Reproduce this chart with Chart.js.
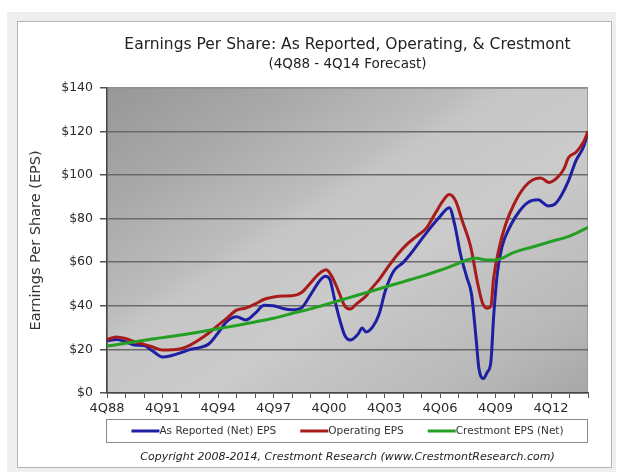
<!DOCTYPE html>
<html>
<head>
<meta charset="utf-8">
<script src="https://cdn.jsdelivr.net/npm/chart.js@4.4.1/dist/chart.umd.min.js"></script>
<style>
    html, body { margin: 0; padding: 0; background: #fff; }
    #wrap { position: relative; width: 621px; height: 472px; }
</style>
</head>
<body>
<div id="wrap"><canvas id="epsChart" width="621" height="472"></canvas></div>
<script>
(function () {
    // x values are decimal years (4Q88 = 1988.75)
    const reportedYears = [1988.75, 1989.25, 1989.75, 1990.25, 1990.75, 1991.25, 1991.75, 1992.25, 1992.75, 1993.25,
        1993.75, 1994.25, 1994.75, 1995.25, 1995.75, 1996.25, 1996.75, 1997.25, 1997.75, 1998.25,
        1998.75, 1999.25, 1999.75, 2000.25, 2000.55, 2000.8, 2001.05, 2001.35, 2001.6, 2001.9,
        2002.3, 2002.55, 2002.75, 2003.1, 2003.45, 2003.8, 2004.25, 2004.75, 2005.25, 2005.75,
        2006.25, 2006.75, 2007.25, 2007.55, 2007.85, 2008.2, 2008.45, 2008.7, 2008.85, 2009.1,
        2009.3, 2009.5, 2009.65, 2009.85, 2010.1, 2010.6, 2011.05, 2011.5, 2012.05, 2012.6,
        2012.95, 2013.3, 2013.7, 2014.1, 2014.5, 2014.75];
    const reportedEps = [24, 24.5, 23.5, 22, 21.8, 19, 16.5, 17.2, 18.5, 20,
        20.8, 22.5, 27.5, 33, 35, 33.5, 36.5, 40.2, 40, 38.8,
        38.2, 39, 45, 51.5, 53.5, 52, 43, 33, 26.5, 24.3,
        26.8, 29.8, 28, 30.2, 36, 47, 56, 59.8, 64.8, 70.5,
        76, 81, 85, 77, 64, 53, 45.5, 25, 11.5, 6.6,
        9.5, 14.3, 35, 55, 67, 77.4, 83.5, 87.4, 88.6, 85.8,
        86.6, 90.5, 97.4, 106.6, 112.7, 119.5];

    const operatingYears = [1988.75, 1989.25, 1989.75, 1990.25, 1990.75, 1991.25, 1991.75, 1992.25, 1992.75, 1993.25,
        1993.75, 1994.25, 1994.75, 1995.25, 1995.75, 1996.25, 1996.75, 1997.25, 1997.75, 1998.25,
        1998.75, 1999.25, 1999.75, 2000.25, 2000.6, 2000.9, 2001.25, 2001.6, 2001.9, 2002.25,
        2002.75, 2003.0, 2003.5, 2004.0, 2004.5, 2005.0, 2005.5, 2006.0, 2006.5, 2006.9,
        2007.25, 2007.6, 2007.95, 2008.4, 2008.8, 2009.05, 2009.3, 2009.5, 2009.65, 2009.95,
        2010.3, 2010.75, 2011.3, 2011.75, 2012.2, 2012.65, 2013.1, 2013.45, 2013.7, 2014.1,
        2014.5, 2014.75];
    const operatingEps = [24.5, 25.7, 25, 23.5, 22.3, 21, 19.7, 19.8, 20.3, 22,
        24.5, 27.5, 31, 34.5, 38, 39, 40.8, 43, 44, 44.5,
        44.6, 46, 50.5, 55, 56.5, 53.5, 47, 40, 38.5, 41,
        44.5, 47.4, 52.5, 58.5, 64, 68.5, 72, 75.5, 82.5, 88,
        91, 88, 79, 67.4, 49.7, 41.2, 38.9, 39.7, 52.8, 66.6,
        77.4, 86.6, 94.3, 97.7, 98.6, 96.6, 98.9, 102.8, 108, 110.4,
        115, 120];

    const crestmontYears = [1988.75, 1989.75, 1990.75, 1991.75, 1992.75, 1993.75, 1994.75, 1995.75, 1996.75, 1997.75,
        1998.75, 1999.75, 2000.75, 2001.75, 2002.75, 2003.75, 2004.75, 2005.75, 2006.75, 2007.75,
        2008.25, 2008.75, 2009.25, 2009.75, 2010.75, 2011.75, 2012.75, 2013.75, 2014.75];
    const crestmontEps = [21.5, 22.8, 24.2, 25.4, 26.6, 28, 29.5, 31, 32.6, 34.3,
        36.5, 38.6, 41, 43.5, 46, 48.5, 51, 53.5, 56.3, 59.5,
        61.2, 61.8, 61, 61, 64.5, 67, 69.5, 72, 76];

    const xTickLabels = ['4Q88', '4Q91', '4Q94', '4Q97', '4Q00', '4Q03', '4Q06', '4Q09', '4Q12'];
    const firstQuarter = 1988.75;
    const lastQuarter = 2014.75;

    const FONT = "'DejaVu Sans', Verdana, sans-serif";

    function pairs(xs, ys) {
        return xs.map((x, i) => ({ x: x, y: ys[i] }));
    }

    const backdrop = {
        id: 'backdrop',
        beforeDraw(chart) {
            const { ctx, chartArea: a } = chart;
            ctx.save();
            ctx.fillStyle = '#efefef';
            ctx.fillRect(7, 12, 609, 460);
            ctx.fillStyle = '#ffffff';
            ctx.fillRect(17, 21, 595, 447);
            ctx.strokeStyle = '#b4b4b4';
            ctx.lineWidth = 1;
            ctx.strokeRect(17.5, 21.5, 594, 446);

            // diagonal banded gray plot background
            const len = a.width * 0.54 + a.height * 0.84;
            const g = ctx.createLinearGradient(a.left, a.top, a.left + 0.54 * len, a.top + 0.84 * len);
            g.addColorStop(0, '#979797');
            g.addColorStop(0.2, '#a9a9a9');
            g.addColorStop(0.38, '#bdbdbd');
            g.addColorStop(0.42, '#c6c6c6');
            g.addColorStop(0.6, '#cbcbcb');
            g.addColorStop(0.68, '#c4c4c4');
            g.addColorStop(0.85, '#b9b9b9');
            g.addColorStop(1, '#a7a7a7');
            ctx.fillStyle = g;
            ctx.fillRect(a.left, a.top, a.width, a.height);
            ctx.strokeStyle = '#9c9c9c';
            ctx.strokeRect(a.left + 0.5, a.top + 0.5, a.width - 1, a.height - 1);
            ctx.restore();
        }
    };

    const legendBox = {
        id: 'legendBox',
        afterDraw(chart) {
            const { ctx, chartArea: a } = chart;
            const cx = (a.left + a.right) / 2;
            const lineLen = 28;
            const gap = 24;
            const cy = a.bottom + 38;
            ctx.save();
            ctx.font = '10.5px ' + FONT;
            const items = chart.data.datasets.map(ds => ({
                label: ds.label,
                color: ds.borderColor,
                w: lineLen + ctx.measureText(ds.label).width
            }));
            const total = items.reduce((s, it) => s + it.w, 0) + gap * (items.length - 1);
            let x = cx - total / 2;

            ctx.fillStyle = '#ffffff';
            ctx.fillRect(a.left, cy - 12, a.width, 23);
            ctx.strokeStyle = '#8a8a8a';
            ctx.lineWidth = 1;
            ctx.strokeRect(Math.round(a.left) - 0.5, cy - 11.5, Math.round(a.width), 23);

            ctx.textBaseline = 'middle';
            ctx.textAlign = 'left';
            items.forEach(it => {
                ctx.strokeStyle = it.color;
                ctx.lineWidth = 3;
                ctx.beginPath();
                ctx.moveTo(x, cy);
                ctx.lineTo(x + lineLen, cy);
                ctx.stroke();
                ctx.fillStyle = '#333';
                ctx.fillText(it.label, x + lineLen, cy + 0.5);
                x += it.w + gap;
            });

            ctx.font = 'italic 11px ' + FONT;
            ctx.textAlign = 'center';
            ctx.fillStyle = '#222';
            ctx.fillText('Copyright 2008-2014, Crestmont Research (www.CrestmontResearch.com)', cx, a.bottom + 64);
            ctx.restore();
        }
    };

    new Chart(document.getElementById('epsChart'), {
        type: 'line',
        data: {
            datasets: [
                {
                    label: 'As Reported (Net) EPS',
                    data: pairs(reportedYears, reportedEps),
                    borderColor: '#1f1fa3',
                    borderWidth: 3,
                    order: 3
                },
                {
                    label: 'Operating EPS',
                    data: pairs(operatingYears, operatingEps),
                    borderColor: '#a81b1b',
                    borderWidth: 3,
                    order: 2
                },
                {
                    label: 'Crestmont EPS (Net)',
                    data: pairs(crestmontYears, crestmontEps),
                    borderColor: '#23a023',
                    borderWidth: 3,
                    order: 1
                }
            ]
        },
        options: {
            responsive: false,
            animation: false,
            devicePixelRatio: 1,
            layout: { padding: { left: 0, right: 33, top: 0, bottom: 49 } },
            elements: {
                point: { radius: 0 },
                line: { cubicInterpolationMode: 'monotone', fill: false }
            },
            scales: {
                x: {
                    type: 'linear',
                    min: firstQuarter,
                    max: lastQuarter,
                    afterFit(scale) { scale.height = 30; },
                    border: { display: true, color: '#444', width: 1.5 },
                    grid: { drawOnChartArea: false, drawTicks: true, tickLength: 5, tickColor: '#555' },
                    ticks: {
                        stepSize: 1,
                        autoSkip: false,
                        maxRotation: 0,
                        padding: 3,
                        color: '#2a2a2a',
                        font: { family: FONT, size: 13 },
                        callback(value) {
                            const idx = Math.round(value - firstQuarter);
                            return idx % 3 === 0 && xTickLabels[idx / 3] ? xTickLabels[idx / 3] : '';
                        }
                    }
                },
                y: {
                    min: 0,
                    max: 140,
                    afterFit(scale) { scale.width = 107; },
                    border: { display: true, color: '#444', width: 1.5 },
                    grid: {
                        color: ctx => (ctx.tick && ctx.tick.value === 140 ? '#8e8e8e' : '#6a6a6a'),
                        lineWidth: 1.5,
                        drawTicks: true,
                        tickLength: 7,
                        tickColor: '#555'
                    },
                    ticks: {
                        stepSize: 20,
                        padding: 7,
                        color: '#2a2a2a',
                        font: { family: FONT, size: 12.5 },
                        callback: v => '$' + v
                    },
                    title: {
                        display: true,
                        text: 'Earnings Per Share (EPS)',
                        color: '#333',
                        font: { family: FONT, size: 14.5 },
                        padding: { top: 28, bottom: 0 }
                    }
                }
            },
            plugins: {
                legend: { display: false },
                tooltip: { enabled: false },
                title: {
                    display: true,
                    fullSize: false,
                    text: 'Earnings Per Share: As Reported, Operating, & Crestmont',
                    color: '#222',
                    font: { family: FONT, size: 15.5, weight: 'normal' },
                    padding: { top: 36, bottom: 0 }
                },
                subtitle: {
                    display: true,
                    fullSize: false,
                    text: '(4Q88 - 4Q14 Forecast)',
                    color: '#222',
                    font: { family: FONT, size: 13.5 },
                    padding: { top: 2, bottom: 15 }
                }
            }
        },
        plugins: [backdrop, legendBox]
    });
})();
</script>
</body>
</html>
